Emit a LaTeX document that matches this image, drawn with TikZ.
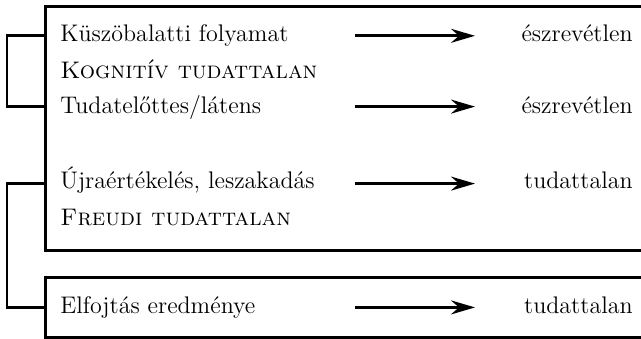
\documentclass[tikz,border=0pt]{standalone}
\usepackage{tikz}
\usetikzlibrary{arrows.meta}
\tikzset{
	lbl/.style={anchor=base west,inner sep=0pt,font=\fontsize{12}{14}\selectfont},
	res/.style={anchor=base east,inner sep=0pt,font=\fontsize{12}{14}\selectfont},
	frame/.style={line width=1.5pt},
	brack/.style={line width=1.4pt},
	arr/.style={line width=1.4pt,-{Stealth[length=12pt,width=7pt,inset=4pt]}},
	}
\begin{document}
\begin{tikzpicture}[x=0.5pt,y=-0.5pt]
\useasboundingbox (0,0) rectangle (641,338);
%SZOVEGEK
\node[lbl] (k1) at (60,41) {Küszöbalatti folyamat};
\node[lbl] (k2) at (60,78) {\textsc{Kognitív tudattalan}};
\node[lbl] (k3) at (60,113) {Tudatelőttes/látens};
\node[lbl] (f1) at (60,188) {Újraértékelés, leszakadás};
\node[lbl] (f2) at (60,225) {\textsc{Freudi tudattalan}};
\node[lbl] (e1) at (60,313) {Elfojtás eredménye};
\node[res] (r1) at (633,41) {észrevétlen};
\node[res] (r3) at (633,113) {észrevétlen};
\node[res] (r4) at (633,188) {tudattalan};
\node[res] (r6) at (633,313) {tudattalan};
%SEGEDPONTOK
\coordinate (bl) at (45,0);
\coordinate (bk) at (7,0);
\coordinate (as) at (355,0);
\coordinate (ae) at (475,0);
\coordinate (m1) at ([yshift=2.6pt]k1.base);
\coordinate (m3) at ([yshift=3.2pt]k3.base);
\coordinate (m4) at ([yshift=2.2pt]f1.base);
\coordinate (m6) at ([yshift=2.8pt]e1.base);
%KERETEK
\draw[frame] (641,6) -- (45,6) -- (45,250) -- (641,250);
\draw[frame] (641,277) -- (45,277) -- (45,337.5) -- (641,337.5);
%ZAROJELEK
\draw[brack] (m1 -| bl) -- (m1 -| bk) -- (m3 -| bk) -- (m3 -| bl);
\draw[brack] (m4 -| bl) -- (m4 -| bk) -- (m6 -| bk) -- (m6 -| bl);
%NYILAK
\draw[arr] (m1 -| as) -- (m1 -| ae);
\draw[arr] (m3 -| as) -- (m3 -| ae);
\draw[arr] (m4 -| as) -- (m4 -| ae);
\draw[arr] (m6 -| as) -- (m6 -| ae);
\end{tikzpicture}
\end{document}
